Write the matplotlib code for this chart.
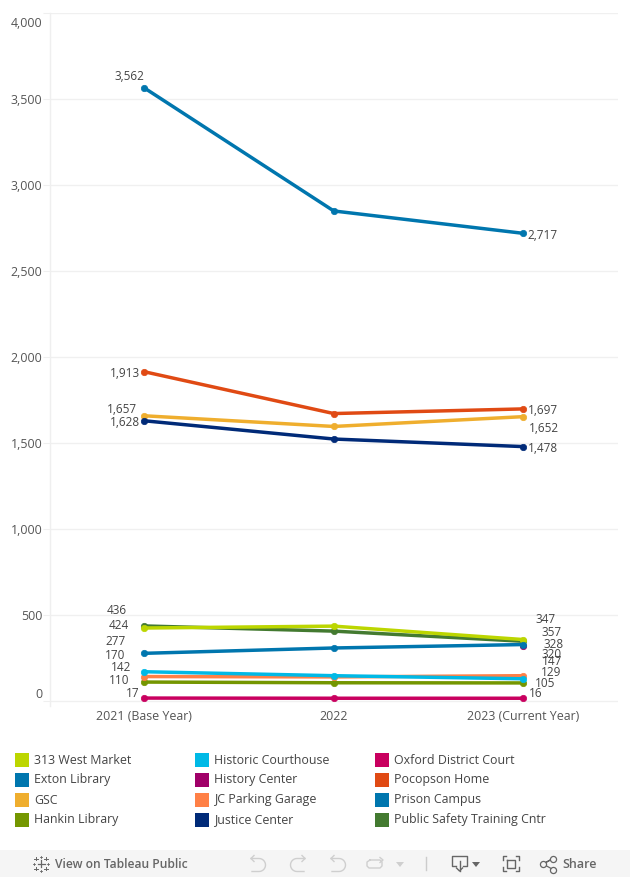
import numpy as np
import matplotlib
matplotlib.use("Agg")
import matplotlib.pyplot as plt
from matplotlib.patches import Rectangle, Polygon
from matplotlib.lines import Line2D

W, H = 630, 877
plt.rcParams['font.family'] = ['Open Sans', 'DejaVu Sans']

categories = ["2021 (Base Year)", "2022", "2023 (Current Year)"]
yticks = [0, 500, 1000, 1500, 2000, 2500, 3000, 3500, 4000]

names = ["313 West Market", "Exton Library", "GSC", "Hankin Library",
         "Historic Courthouse", "History Center", "JC Parking Garage", "Justice Center",
         "Oxford District Court", "Pocopson Home", "Prison Campus", "Public Safety Training Cntr"]
colors = ["#BCD600", "#0076AE", "#EFAE2E", "#749600",
          "#00B9E6", "#A00068", "#FF8046", "#002A78",
          "#C9005F", "#E04A14", "#0076AE", "#437A30"]

west_market = [424, 435, 357]
exton = [277, 308, 328]
gsc = [1657, 1595, 1652]
hankin = [110, 106, 105]
courthouse = [170, 147, 129]
history = [None, None, 320]
parking = [142, 140, 147]
justice = [1628, 1522, 1478]
oxford = [17, 16, 16]
pocopson = [1913, 1670, 1697]
prison = [3562, 2847, 2717]
safety = [436, 406, 347]
series = [west_market, exton, gsc, hankin, courthouse, history, parking, justice,
          oxford, pocopson, prison, safety]

left_labels = [("3,562", 144, 75), ("1,913", 140, 372), ("1,657", 137, 408),
               ("1,628", 140, 421), ("436", 127, 609), ("424", 129, 624),
               ("277", 126, 640), ("170", 125, 654), ("142", 131, 666),
               ("110", 129, 679), ("17", 140, 692)]
right_labels = [("2,717", 527, 234), ("1,697", 528, 409), ("1,652", 529, 427), ("1,478", 528, 447),
                ("347", 535, 618), ("357", 541, 631), ("328", 543, 643), ("320", 542, 653),
                ("147", 542, 660), ("129", 541, 671), ("105", 535, 682), ("16", 529, 692)]
ytick_shift = {0: 8, 4000: -9}

FS = 8.9
fig = plt.figure(figsize=(W / 100, H / 100), dpi=100, facecolor="white")
x0, x1, ytop, ybot = 49.5, 618, 12.5, 706
ax = fig.add_axes([x0 / W, 1 - ybot / H, (x1 - x0) / W, (ybot - ytop) / H])
ax.set_xlim(-0.5, 2.5)
px_per = (701 - 12.5) / 4000
ax.set_ylim(-(ybot - 701) / px_per, 4000)
for s in ("top", "right", "bottom"):
    ax.spines[s].set_visible(False)
ax.spines["left"].set_color("#efefef")
ax.spines["left"].set_linewidth(1)
ax.set_yticks(yticks)
ax.set_yticklabels([])
for v in yticks:
    ax.annotate(f"{v:,}", xy=(0, v), xycoords=ax.get_yaxis_transform(),
                xytext=(-5.2, ytick_shift.get(v, 0) * 0.72 - 1.2), textcoords="offset points",
                ha="right", va="center", fontsize=FS, color="#555555", annotation_clip=False)
ax.set_xticks(range(3))
ax.set_xticklabels(categories, fontsize=FS, color="#555555")
ax.tick_params(axis="x", length=0, pad=3)
ax.tick_params(axis="y", length=5, color="#efefef")
ax.grid(axis="y", color="#f0f0f0", lw=1)
ax.set_axisbelow(True)

for i in [11, 0, 5, 1, 2, 7, 9, 10, 3, 6, 4, 8]:
    pts = [(k, v) for k, v in enumerate(series[i]) if v is not None]
    ax.plot([p[0] for p in pts], [p[1] for p in pts], color=colors[i], lw=2.5, marker="o",
            ms=4.6, mec=colors[i], mew=0.5, solid_capstyle="round", zorder=3, clip_on=False)

def tx(xp, yp, s, **kw):
    kw.setdefault("fontsize", FS)
    kw.setdefault("color", "#444444")
    kw.setdefault("va", "center")
    fig.text(xp / W, 1 - yp / H, s, **kw)

for s, xr, yp in left_labels:
    tx(xr, yp + 1.2, s, ha="right", fontsize=8.5)
for s, xl, yp in right_labels:
    tx(xl, yp + 1.2, s, ha="left", fontsize=8.5)

# legend
col_x = [15, 195, 375]
row_y = [759.5, 779.5, 799.5, 819.5]
for i, (n, c) in enumerate(zip(names, colors)):
    cx, ry = col_x[i // 4], row_y[i % 4]
    fig.add_artist(Rectangle((cx / W, 1 - (ry + 7) / H), 14 / W, 14 / H, transform=fig.transFigure,
                             fc=c, ec="none"))
    tx(cx + 19, ry + 0.5, n)

# toolbar
fig.add_artist(Rectangle((0, 0), 1, 27 / H, transform=fig.transFigure, fc="#f5f5f5", ec="none"))
tx(55, 864.5, "View on Tableau Public", fontsize=8.7, color="#666666", fontweight="semibold")
tx(562, 864.5, "Share", fontsize=9, color="#666666", fontweight="semibold")

def ln(xs, ys, c="#666666", lw=1):
    fig.add_artist(Line2D([x / W for x in xs], [1 - y / H for y in ys], color=c, lw=lw,
                          transform=fig.transFigure))

def tri(xc, yc, c):
    fig.add_artist(Polygon([((xc - 4) / W, 1 - (yc - 2) / H), ((xc + 4) / W, 1 - (yc - 2) / H),
                            (xc / W, 1 - (yc + 3) / H)], transform=fig.transFigure, fc=c, ec="none"))

def dot(xc, yc, r):
    fig.add_artist(Line2D([xc / W], [1 - yc / H], marker="o", ms=r, mfc="#f5f5f5", mec="#666666",
                          mew=0.9, transform=fig.transFigure))

def plus(xc, yc, r, lw=0.9):
    ln([xc - r, xc + r], [yc, yc], lw=lw)
    ln([xc, xc], [yc - r, yc + r], lw=lw)

# tableau mark
plus(41, 863.5, 3.5)
for dx, dy in [(-5, -5), (5, -5), (-5, 5), (5, 5)]:
    plus(41 + dx, 863.5 + dy, 1.6, 0.7)
for dx, dy in [(0, -7), (0, 7), (-7, 0), (7, 0)]:
    plus(41 + dx, 863.5 + dy, 1.0, 0.6)

# undo / redo family
GREY = "#cfcfcf"
t = np.linspace(-np.pi / 2, np.pi / 2, 20)
for xa, flip in [(250, 1), (290, -1), (330, 1)]:
    cx = xa + 9
    xs = np.r_[xa + 1, cx, cx + 6.5 * np.cos(t), xa + 2]
    ys = np.r_[858.5, 858.5, 865 + 6.5 * np.sin(t), 871.5]
    if flip < 0:
        xs = 2 * xa + 16 - xs
    ln(xs, ys, c=GREY, lw=1)
    ax0 = xs[0]
    ln([ax0 + 3 * flip, ax0, ax0 + 3 * flip], [855.5, 858.5, 861.5], c=GREY, lw=1)
ln([370, 380, 382, 382, 380, 369, 367, 367, 370], [860, 860, 862, 866, 868, 868, 866, 862, 860], c=GREY, lw=1)
ln([380, 383, 380], [857.5, 860, 862.5], c=GREY, lw=1)
tri(400, 864, GREY)
ln([425.5, 425.5], [857, 870], c="#cccccc", lw=1)

# download, fullscreen, share
ln([456, 452, 452, 467, 467, 463], [866, 866, 856, 856, 866, 866], lw=1)
ln([459.5, 459.5], [861, 871], lw=1)
ln([456.5, 459.5, 462.5], [868, 871, 868], lw=1)
tri(476, 864, "#666666")
for xa, xb, ya, yb in [(503, 506, 860, 856), (519, 516, 860, 856), (503, 506, 867, 871), (519, 516, 867, 871)]:
    ln([xa, xa, xb], [ya, yb, yb], lw=1)
ln([507, 515, 515, 507, 507], [859.5, 859.5, 867.5, 867.5, 859.5], lw=1)
ln([543, 553, 543, 553], [864, 858.5, 864, 869.5], lw=0.9)
for cx, cy in [(543, 864), (553, 858.5), (553, 869.5)]:
    dot(cx, cy, 4.4)

fig.savefig("out.png", dpi=100, facecolor="white")
